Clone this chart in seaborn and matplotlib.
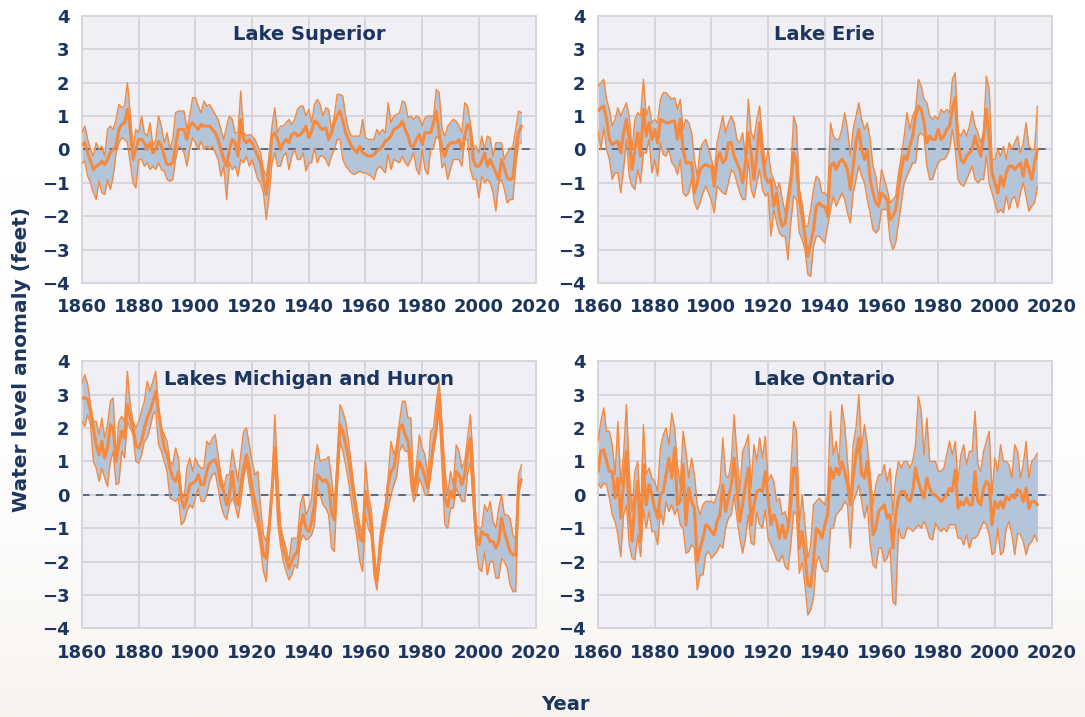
"""
Great Lakes water level anomalies, 1860-2015 (min / mean / max band per lake)
"""

import numpy as np
import matplotlib.pyplot as plt
import seaborn as sns

# ── Data (feet, annual) ──────────────────────────────────────────────────────
YEARS = list(range(1860, 2016))

SUP_MEAN = [
    0.15, 0.2, -0.1, -0.35, -0.6, -0.5, -0.45, -0.35, -0.45, -0.3,
    -0.1, 0.0, 0.1, 0.6, 0.75, 0.8, 1.2, 0.6, -0.3, 0.0,
    0.3, 0.3, 0.2, 0.0, 0.2, -0.1, 0.0, 0.25, 0.1, -0.2,
    -0.45, -0.45, -0.4, 0.1, 0.6, 0.6, 0.6, 0.3, 0.7, 0.8,
    0.7, 0.6, 0.75, 0.7, 0.7, 0.7, 0.6, 0.5, 0.3, 0.0,
    -0.3, -0.5, 0.0, 0.3, 0.2, -0.2, 0.9, 0.3, 0.2, 0.3,
    0.2, 0.0, -0.2, -0.4, -0.9, -1.35, -0.5, 0.4, 0.5, 0.3,
    0.0, 0.2, 0.3, 0.2, 0.45, 0.5, 0.4, 0.45, 0.55, 0.7,
    0.35, 0.55, 0.85, 0.8, 0.65, 0.6, 0.65, 0.3, 0.5, 0.8,
    1.0, 1.15, 0.85, 0.5, 0.3, 0.1, 0.0, -0.1, 0.1, -0.1,
    -0.15, -0.2, -0.2, -0.15, -0.05, 0.0, 0.1, 0.25, 0.3, 0.4,
    0.6, 0.65, 0.7, 0.85, 0.6, 0.4, 0.1, 0.1, 0.3, 0.45,
    0.15, 0.5, 0.5, 0.5, 0.8, 1.15, 0.5, 0.0, -0.2, 0.1,
    0.2, 0.2, 0.2, 0.3, 0.0, 0.4, 0.75, 0.6, -0.3, -0.5,
    -0.5, -0.35, -0.1, -0.5, -0.3, -0.5, -0.7, -0.9, -0.3, -0.55,
    -0.85, -0.9, -0.85, 0.0, 0.5, 0.7,
]
SUP_HI = [
    0.5, 0.7, 0.3, 0.0, -0.2, 0.2, 0.0, 0.1, -0.2, 0.6,
    0.7, 0.6, 0.9, 1.35, 1.25, 1.3, 2.0, 1.1, 0.0, 0.6,
    0.5, 1.0, 0.5, 0.4, 0.8, 0.1, 0.3, 1.0, 0.7, 0.2,
    0.5, 0.0, 0.3, 1.1, 1.15, 1.15, 1.15, 0.6, 1.0, 1.55,
    1.55, 1.3, 1.1, 1.45, 1.3, 1.35, 1.2, 1.05, 0.9, 0.6,
    0.3, 0.7, 1.0, 0.9, 0.5, 0.5, 1.75, 0.5, 0.4, 0.45,
    0.4, 0.3, 0.1, -0.1, -0.6, -0.8, -0.2, 0.7, 1.25, 0.5,
    0.7, 0.7, 0.8, 0.9, 0.75, 0.9, 1.2, 1.3, 1.3, 1.0,
    1.2, 0.8, 1.35, 1.5, 1.35, 1.0, 1.25, 1.2, 0.6, 1.0,
    1.65, 1.65, 1.6, 1.0, 0.6, 0.4, 0.4, 0.4, 0.4, 0.9,
    0.35, 0.3, 0.3, 0.3, 0.6, 0.45, 0.6, 0.5, 1.4, 0.8,
    1.0, 1.05, 1.1, 1.45, 1.4, 0.95, 1.0, 0.9, 1.0, 0.95,
    0.7, 0.95, 1.0, 1.0, 1.0, 1.8, 1.7, 0.6, 0.4, 0.7,
    0.8, 0.9, 0.85, 0.7, 0.5, 1.4, 1.3, 0.8, 0.1, 0.1,
    -0.1, 0.4, 0.0, 0.4, 0.35, -0.2, 0.2, 0.2, 0.2, -0.3,
    -0.1, 0.0, 0.1, 0.6, 1.15, 1.1,
]
SUP_LO = [
    -0.4, -0.35, -0.8, -1.0, -1.3, -1.5, -0.95, -1.3, -1.35, -0.9,
    -1.2, -0.8, -0.1, 0.2, 0.35, 0.3, 0.2, -0.4, -1.0, -1.15,
    -0.3, -0.3, -0.5, -0.4, -0.6, -0.5, -0.6, -0.4, -0.6, -0.65,
    -0.9, -0.95, -0.9, -0.3, 0.1, 0.05, -0.1, -0.5, 0.0, 0.35,
    0.2, 0.0, 0.25, 0.0, 0.1, 0.0, 0.1, -0.1, -0.3, -0.8,
    -0.5, -1.5, -0.4, -0.6, -0.5, -0.8, -0.3, -0.4, -0.2, -0.5,
    -0.3, -0.6, -0.9, -1.0, -1.3, -2.1, -1.4, -0.4, -0.1, -0.5,
    -0.5, -0.2, -0.1, -0.6, -0.2, 0.0, -0.3, -0.3, -0.1, -0.65,
    -0.4, -0.4, 0.05, -0.4, -0.2, -0.2, -0.3, -0.5, -0.2, 0.0,
    0.3, 0.3, -0.3, -0.5, -0.6, -0.7, -0.75, -0.7, -0.65, -0.7,
    -0.7, -0.75, -0.8, -0.9, -0.6, -0.5, -0.6, -0.7, -0.15, -0.6,
    -0.3, -0.35, -0.4, -0.2, -0.4, -0.5, -0.3, -0.1, -0.6, -0.75,
    0.0, -0.6, -0.75, 0.0, 0.05, 0.4, 0.3, -0.55, -0.4, -0.9,
    -0.6, -0.3, -0.3, -0.3, -0.5, 0.3, 0.3, -0.6, -0.9, -0.9,
    -1.45, -0.8, -1.0, -0.9, -1.0, -1.3, -1.85, -1.0, -0.9, -1.2,
    -1.6, -1.5, -1.5, -0.5, 0.2, 0.2,
]

ERIE_MEAN = [
    1.15, 1.25, 1.3, 0.9, 0.3, 0.15, 0.2, 0.25, -0.1, 0.5,
    0.9, 0.3, -0.6, 0.0, 0.5, -0.2, 1.2, 0.4, 0.8, 0.3,
    0.6, 0.2, 0.9, 0.85, 0.8, 0.8, 0.85, 0.85, 0.3, 0.9,
    0.0, -0.4, -0.4, -0.4, -1.3, -1.0, -0.6, -0.5, -0.45, -0.5,
    -0.5, -1.1, -0.3, -0.1, -0.4, -0.3, 0.2, 0.2, -0.2, -0.4,
    -0.6, -1.0, -0.4, 0.5, -0.1, -0.9, -0.2, 0.8, -0.2, -0.8,
    -1.0, -0.9, -1.7, -1.3, -2.0, -2.3, -2.2, -1.6, -1.0, -0.1,
    -0.4, -1.5, -2.0, -2.6, -3.2, -2.8, -2.4, -1.7, -1.6, -1.7,
    -1.7, -2.0, -0.5, -0.4, -0.6, -0.4, -0.3, -0.4, -0.6, -1.2,
    -0.5, 0.2, 0.6, 0.0, -0.3, 0.0, -0.9, -1.3, -1.6, -1.7,
    -1.3, -1.4, -1.5, -2.1, -2.0, -1.8, -1.2, -0.6, -0.2, -0.3,
    0.1, 0.4, 1.0, 1.3, 1.2, 0.8, 0.2, 0.4, 0.3, 0.3,
    0.6, 0.3, 0.4, 0.6, 0.7, 1.2, 1.55, 0.2, -0.3, -0.4,
    -0.2, -0.1, 0.0, 0.4, 0.1, -0.2, 0.4, 1.2, 0.3, -0.7,
    -1.0, -1.3, -0.8, -1.1, -0.7, -0.5, -0.5, -0.6, -0.5, -0.4,
    -0.8, -0.3, -0.6, -0.9, -0.4, 0.0,
]
ERIE_HI = [
    1.9, 2.0, 2.1, 1.5, 1.2, 0.7, 0.9, 1.25, 1.0, 1.2,
    1.4, 1.0, 0.0, 0.9, 1.1, 1.0, 2.1, 1.0, 1.3, 0.8,
    0.9, 0.8, 1.5, 1.7, 1.7, 1.6, 1.5, 1.55, 1.2, 1.5,
    0.6, 0.9, 0.8, 0.5, -0.3, -0.8, 0.0, 0.2, 0.3, 0.0,
    -0.3, -0.7, 0.2, 0.6, 1.0, 0.5, 0.8, 1.0, 0.8, 0.3,
    0.2, 0.5, -0.2, 1.5, 0.5, 0.3, 0.9, 1.3, 0.3, -0.5,
    0.0, -0.7, -0.9, -1.2, -1.0, -1.5, -1.9, -1.3, -0.7, 1.0,
    0.7, -1.2, -1.6, -2.3, -2.3, -1.8, -1.2, -0.8, -0.9, -1.3,
    -1.3, -1.4, 0.8, 0.4, 0.3, 0.3, 0.6, 1.1, 0.6, -0.2,
    0.6, 1.0, 1.4, 0.9, 0.6, 0.8, 0.3, -0.5, -0.8, -1.5,
    -0.6, -0.9, -1.2, -1.6, -1.5, -1.4, -0.7, -0.2, 0.4, 1.1,
    0.6, 1.0, 1.2, 2.1, 1.9, 1.5, 1.4, 1.0, 0.9, 1.0,
    0.9, 1.2, 1.1, 1.2, 1.1, 2.1, 2.3, 0.5, 0.4, 0.6,
    0.4, 0.7, 1.15, 0.7, 0.5, 0.2, 0.5, 2.2, 1.8, -0.3,
    -0.3, 0.0, -0.2, 0.1, -0.3, 0.2, 0.0, 0.2, 0.4, -0.1,
    0.2, 0.8, 0.1, 0.0, 0.0, 1.3,
]
ERIE_LO = [
    0.55, 0.0, 0.65, 0.0, -0.3, -0.9, -0.7, -0.7, -1.3, -0.6,
    0.3, -0.8, -1.1, -1.2, -0.6, -1.0, -0.1, -0.1, 0.3, -0.7,
    -0.3, -0.8, 0.2, -0.15, -0.2, 0.0, -0.4, -0.5, -0.75, -0.3,
    -1.3, -1.4, -1.3, -0.9, -1.6, -1.8, -1.6, -1.3, -1.1, -1.3,
    -1.55, -1.9, -1.1, -1.2, -1.3, -1.35, -1.0, -0.6, -0.7, -1.0,
    -1.3, -1.5, -1.5, -0.3, -1.2, -1.45, -1.0, -0.6, -1.2, -1.4,
    -1.3, -2.6, -1.8, -2.2, -2.5, -2.6, -2.6, -3.3, -2.2, -1.4,
    -1.5, -2.5, -2.7, -3.0, -3.75, -3.8, -2.9, -2.6, -2.6, -2.7,
    -2.8, -2.3, -1.8, -1.4, -1.7, -1.5, -1.3, -1.5, -1.9, -2.2,
    -1.3, -0.9, -0.5, -0.8, -1.0, -1.5, -1.9, -2.4, -2.5, -2.4,
    -1.8, -1.8, -1.8, -2.7, -3.0, -2.8, -2.2, -1.6, -1.0, -0.8,
    -0.6, -0.4, -0.4, 0.4, 0.5, 0.4, -0.5, -0.9, -0.9, -0.6,
    -0.4, -0.3, -0.3, -0.2, 0.0, 0.6, 0.0, -0.9, -1.05, -1.1,
    -0.9, -0.7, -0.5, -0.9, -1.0, -0.9, -0.9, -0.2, -1.0, -1.3,
    -1.6, -1.9, -1.8, -1.9, -1.4, -1.8, -1.5, -1.4, -1.75, -1.3,
    -1.0, -1.4, -1.85, -1.7, -1.6, -1.1,
]

MH_MEAN = [
    2.9, 2.9, 2.85, 2.5, 2.0, 1.5, 1.2, 1.6, 1.1, 1.4,
    2.1, 2.0, 1.0, 1.5, 1.9, 1.7, 2.7, 2.3, 2.0, 1.5,
    1.4, 1.6, 2.0, 2.3, 2.5, 2.8, 3.1, 2.5, 1.9, 1.4,
    1.2, 0.8, 0.5, 0.4, 0.7, -0.1, -0.4, -0.1, 0.3, 0.35,
    0.4, 0.6, 0.3, 0.3, 0.7, 0.95, 1.0, 1.05, 0.8, 0.3,
    0.1, -0.3, 0.0, 0.7, -0.1, -0.3, 0.3, 0.8, 1.2, 0.8,
    0.2, -0.2, -0.6, -1.2, -1.8, -1.9, -1.0, 0.1, 1.4, 0.0,
    -1.2, -1.6, -1.9, -2.2, -2.0, -1.8, -1.7, -1.0, -0.6, -1.0,
    -1.1, -0.8, -0.3, 0.6, 0.5, 0.4, 0.45, 0.3, -0.5, -0.75,
    0.6, 2.1, 1.9, 1.5, 1.1, 0.5, -0.1, -0.7, -1.3, -1.4,
    0.1, -0.4, -0.9, -1.9, -2.6, -1.8, -1.1, -0.5, 0.3, 0.7,
    0.8, 1.3, 2.0, 2.1, 1.8, 1.6, 1.0, 0.0, 0.5, 1.0,
    0.8, 0.5, 0.2, 0.8, 1.5, 2.0, 3.0, 1.5, -0.1, -0.35,
    0.1, -0.1, 0.7, 0.6, 0.3, 0.6, 1.2, 1.7, 0.3, -1.2,
    -1.5, -1.1, -1.2, -1.2, -1.4, -1.4, -1.6, -1.4, -0.7, -1.1,
    -1.4, -1.7, -1.8, -1.8, 0.3, 0.45,
]
MH_HI = [
    3.35, 3.6, 3.3, 2.7, 2.2, 2.2, 1.8, 2.3, 1.7, 2.1,
    2.8, 2.9, 1.1, 2.2, 2.35, 2.2, 3.7, 2.7, 2.2, 2.0,
    2.2, 2.5, 2.8, 3.4, 3.1, 3.4, 3.7, 2.6, 2.0, 1.8,
    1.6, 1.0, 0.9, 1.4, 1.1, 0.1, -0.1, 0.8, 1.1, 0.7,
    1.1, 0.9, 0.8, 0.8, 1.6, 1.5, 1.7, 1.8, 1.2, 0.6,
    0.2, 0.6, 0.6, 1.35, 0.9, 0.4, 1.2, 1.9, 2.0, 1.5,
    1.0, 0.6, 0.7, -0.4, -1.2, -1.4, -0.8, 0.3, 2.4, 0.6,
    -0.9, -1.3, -1.6, -2.0, -1.3, -1.3, -1.3, -0.3, 0.0, -0.6,
    -0.4, -0.1, 0.9, 1.5, 1.0, 1.05, 1.05, 1.15, 0.5, -0.4,
    1.0, 2.7, 2.5, 2.2, 1.6, 0.9, 0.2, -0.4, -0.9, -1.2,
    1.0, 0.0, -0.4, -1.6, -2.5, -1.3, -0.7, -0.3, 0.5, 1.6,
    1.2, 1.5, 2.2, 2.8, 2.8, 2.3, 2.3, 0.2, 0.9, 1.8,
    1.4, 1.2, 0.5, 1.9, 2.0, 2.8, 3.4, 2.1, 0.8, 0.0,
    0.7, 0.3, 1.5, 1.3, 0.8, 1.0, 1.7, 2.4, 1.0, -0.9,
    -1.0, -1.0, -0.3, -0.5, -0.2, -0.8, -1.0, -0.4, 0.0, -0.6,
    -0.6, -0.7, -1.2, -1.3, 0.6, 0.9,
]
MH_LO = [
    2.2, 2.05, 2.4, 2.1, 1.0, 0.8, 0.4, 0.8, 0.5, 0.25,
    1.0, 1.3, 0.3, 0.35, 1.3, 1.1, 2.2, 2.0, 1.8, 1.0,
    0.95, 1.2, 1.6, 1.7, 2.0, 2.4, 2.5, 1.5, 1.3, 1.0,
    0.7, -0.1, -0.15, -0.2, -0.1, -0.9, -0.8, -0.5, -0.3, -0.4,
    -0.1, 0.2, -0.2, -0.2, 0.0, 0.4, 0.6, 0.65, 0.2, -0.3,
    -0.6, -0.75, -0.3, -0.1, -0.3, -0.7, -0.2, 0.5, 0.9, 0.3,
    -0.2, -0.7, -1.0, -1.6, -2.3, -2.6, -1.3, -0.1, 1.0, -0.8,
    -1.5, -2.0, -2.3, -2.55, -2.4, -2.1, -2.2, -1.4, -1.2, -1.35,
    -1.3, -1.2, -0.9, 0.2, 0.0, -0.3, -0.4, -0.6, -1.6, -1.7,
    0.2, 1.6, 1.3, 0.9, 0.4, -0.2, -0.8, -1.3, -2.0, -2.3,
    -0.6, -1.0, -1.2, -2.4, -2.85, -2.0, -1.3, -0.9, -0.4, 0.0,
    0.3, 0.55, 1.3, 1.5, 1.3, 1.3, 0.3, -0.2, 0.0, 0.5,
    0.3, 0.0, 0.0, 0.6, 1.3, 1.8, 2.6, 0.8, -0.9, -1.0,
    -0.4, -0.4, 0.2, 0.0, -0.2, -0.2, 0.6, 1.0, -0.3, -1.5,
    -2.2, -2.3, -1.7, -2.4, -2.0, -2.0, -2.5, -2.5, -1.9, -2.0,
    -2.2, -2.7, -2.9, -2.9, 0.0, 0.4,
]

ONT_MEAN = [
    0.7, 1.3, 1.35, 1.0, 0.7, 0.7, -0.1, 0.5, -0.7, 0.4,
    1.3, -0.5, -1.4, -0.2, 0.4, -1.4, 0.9, -0.3, 0.3, 0.0,
    -0.4, -0.7, 0.0, 0.1, 0.6, 1.1, 0.5, 1.4, -0.3, -0.2,
    0.9, -0.9, 0.2, -0.2, -0.4, -2.0, -1.6, -1.3, -0.9, -0.95,
    -1.1, -1.2, -0.8, -0.6, 0.3, -0.5, -0.1, 0.3, 1.1, 0.2,
    -0.8, -0.3, 0.3, 0.8, -0.9, -0.3, 0.1, 0.15, 0.1, 0.7,
    -0.1, -0.9, -0.6, -0.8, -1.3, -0.9, -1.3, -1.0, -0.3, 0.8,
    0.8, -1.6, -1.1, -1.8, -2.7, -2.75, -2.0, -1.0, -1.1, -1.3,
    -0.9, -0.6, 0.8, 0.5, 0.8, 0.6, 1.0, 0.7, 0.3, -0.3,
    0.5, 1.2, 1.7, 0.6, 0.5, 1.0, 0.2, -1.2, -1.0, -0.5,
    -0.4, -0.3, -0.7, -0.6, -1.6, -0.6, -0.1, 0.1, 0.1, -0.1,
    -0.2, 0.1, 0.8, 0.4, 0.1, -0.1, 0.5, 0.2, 0.0, 0.0,
    -0.1, -0.2, -0.1, 0.0, 0.2, 0.1, 0.75, -0.4, -0.2, -0.3,
    -0.1, -0.3, -0.3, 0.7, -0.2, -0.3, 0.2, 0.4, 0.3, -0.9,
    -0.2, -0.4, -0.2, -0.4, -0.05, -0.15, 0.0, -0.1, 0.15, 0.1,
    -0.2, 0.2, -0.4, -0.2, -0.2, -0.3,
]
ONT_HI = [
    1.6, 2.2, 2.6, 1.9, 1.9, 1.5, 0.6, 2.2, 0.3, 1.2,
    2.7, 0.7, -0.5, 0.7, 1.0, -0.7, 2.1, 0.6, 0.8, 0.5,
    0.4, 0.1, 1.4, 1.8, 2.0, 1.5, 2.45, 2.0, 0.9, 0.3,
    1.9, 1.3, 0.5, 1.1, 0.6, -0.3, -0.6, -0.3, -0.2, -0.2,
    -0.2, -0.25, 0.0, 0.3, 1.7, 0.6, 0.5, 1.0, 2.4, 1.2,
    0.1, 1.3, 1.5, 1.8, 0.2, 1.5, 1.0, 1.7, 1.1, 1.75,
    0.4, 0.6, 0.4, -0.2, -0.1, -0.6, -0.5, -0.9, 0.7, 2.2,
    1.9, -0.9, 0.0, -0.9, -1.9, -1.5, -0.3, -0.2, -0.1, -0.2,
    -0.3, 0.0, 2.5, 1.2, 1.6, 0.9, 2.7, 2.1, 1.0, -0.2,
    1.5, 2.0, 3.0, 1.4, 2.1, 1.5, 0.6, -0.3, 0.3, 0.6,
    0.6, 0.9, 0.4, 0.8, -0.6, 0.5, 1.0, 0.8, 1.0, 1.0,
    0.8, 1.0, 1.5, 2.95, 2.5, 1.2, 2.3, 1.0, 1.0, 1.0,
    0.7, 0.7, 0.8, 1.2, 1.6, 1.2, 1.6, 0.4, 1.2, 1.5,
    0.9, 1.3, 1.3, 2.5, 0.9, 0.7, 1.3, 1.6, 1.9, 0.0,
    1.1, 0.7, 1.5, 1.0, 1.0, 0.9, 0.5, 1.5, 1.3, 0.5,
    0.9, 1.6, 0.5, 1.0, 1.1, 1.25,
]
ONT_LO = [
    0.35, 0.2, 0.35, 0.3, -0.1, -0.6, -0.8, -1.2, -1.85, -0.6,
    -0.3, -1.5, -1.9, -1.95, -1.2, -1.85, -0.4, -1.0, -0.5, -1.1,
    -1.1, -1.5, -0.5, -0.9, -0.2, -0.5, -0.3, -0.6, -0.4, -0.9,
    -1.0, -1.75, -1.7, -1.5, -1.6, -2.85, -2.4, -2.4, -1.8, -1.7,
    -1.9, -1.8, -1.7, -1.5, -1.6, -1.0, -0.7, -0.6, 0.0, -0.7,
    -1.3, -1.75, -1.3, -0.6, -1.45, -1.5, -0.5, -0.9, -1.0, -0.45,
    -1.3, -1.5, -1.7, -1.95, -2.0, -1.8, -2.15, -2.25, -1.5, -0.5,
    -0.6, -2.35, -2.0, -2.7, -3.6, -3.45, -3.1, -2.0, -1.85, -2.2,
    -2.3, -2.3, -1.0, -1.0, -0.6, -0.5, -0.4, -0.2, -0.3, -1.6,
    -0.2, 0.0, 0.3, -0.2, -0.7, -0.3, -1.5, -2.1, -2.2, -1.6,
    -1.6, -2.0, -1.9, -1.6, -3.2, -3.3, -1.0, -1.3, -1.3, -1.0,
    -1.0, -1.1, -1.0, -0.9, -1.0, -0.8, -1.0, -1.3, -1.35, -0.85,
    -1.0, -1.1, -1.0, -1.1, -0.9, -0.9, -0.9, -1.3, -1.3, -1.5,
    -1.2, -1.6, -1.3, -1.3, -1.2, -1.0, -0.8, -0.9, -1.2, -1.8,
    -1.7, -1.0, -1.8, -1.7, -1.0, -0.8, -1.2, -1.8, -1.15, -1.2,
    -1.4, -1.8, -1.5, -1.4, -1.2, -1.4,
]

PANELS = [
    ("Lake Superior", SUP_LO, SUP_MEAN, SUP_HI),
    ("Lake Erie", ERIE_LO, ERIE_MEAN, ERIE_HI),
    ("Lakes Michigan and Huron", MH_LO, MH_MEAN, MH_HI),
    ("Lake Ontario", ONT_LO, ONT_MEAN, ONT_HI),
]

# ── Style ─────────────────────────────────────────────────────────────────────
NAVY   = "#1C355E"
ORANGE = "#F5893D"
BAND   = "#B4C5DA"
PANEL  = "#EFEFF5"
GRID   = "#D5D5DB"

sns.set_theme(style="whitegrid", rc={
    "axes.facecolor": PANEL,
    "axes.edgecolor": GRID,
    "axes.linewidth": 1.4,
    "grid.color": GRID,
    "grid.linewidth": 1.4,
})
plt.rcParams["font.family"] = ["DejaVu Sans"]

fig = plt.figure(figsize=(10.85, 7.17), dpi=100)

# faint warm wash at the bottom of the page
bg = fig.add_axes([0, 0, 1, 1], zorder=-10)
grad = np.linspace(0, 1, 256)[:, None] ** 4
bg.imshow(grad, aspect="auto", cmap=sns.blend_palette(["#FFFFFF", "#F7F3EE"], as_cmap=True),
          extent=[0, 1, 0, 1])
bg.axis("off")

LEFTS   = [0.0756, 0.5512]
BOTTOMS = [0.6053, 0.1237]
W, H = 0.418, 0.3725

for i, (name, lo, mean, hi) in enumerate(PANELS):
    ax = fig.add_axes([LEFTS[i % 2], BOTTOMS[i // 2], W, H])
    ax.fill_between(YEARS, lo, hi, color=BAND, lw=0, zorder=2)
    ax.axhline(0, color="#3B4B6B", lw=1.1, ls=(0, (5, 4)), zorder=2.5)
    sns.lineplot(x=YEARS, y=lo, ax=ax, color=ORANGE, lw=1.0, zorder=3)
    sns.lineplot(x=YEARS, y=hi, ax=ax, color=ORANGE, lw=1.0, zorder=3)
    sns.lineplot(x=YEARS, y=mean, ax=ax, color=ORANGE, lw=2.2, zorder=4)

    ax.set_xlim(1860, 2020)
    ax.set_ylim(-4, 4)
    ax.set_xticks(range(1860, 2021, 20))
    ax.set_yticks(range(-4, 5))
    ax.tick_params(length=0, labelsize=13, labelcolor=NAVY, pad=9)
    ax.tick_params(axis="x", pad=11)
    for lab in ax.get_xticklabels() + ax.get_yticklabels():
        lab.set_fontweight("bold")
    ax.set_xlabel("")
    ax.set_ylabel("")
    ax.text(0.5, 0.93, name, transform=ax.transAxes, ha="center", va="center",
            fontsize=14, fontweight="bold", color=NAVY, zorder=5)

fig.text(0.02, 0.498, "Water level anomaly (feet)", rotation=90, ha="center",
         va="center", fontsize=14.5, fontweight="bold", color=NAVY)
fig.text(0.521, 0.018, "Year", ha="center", va="center",
         fontsize=14, fontweight="bold", color=NAVY)

fig.savefig("out.png", dpi=100)
